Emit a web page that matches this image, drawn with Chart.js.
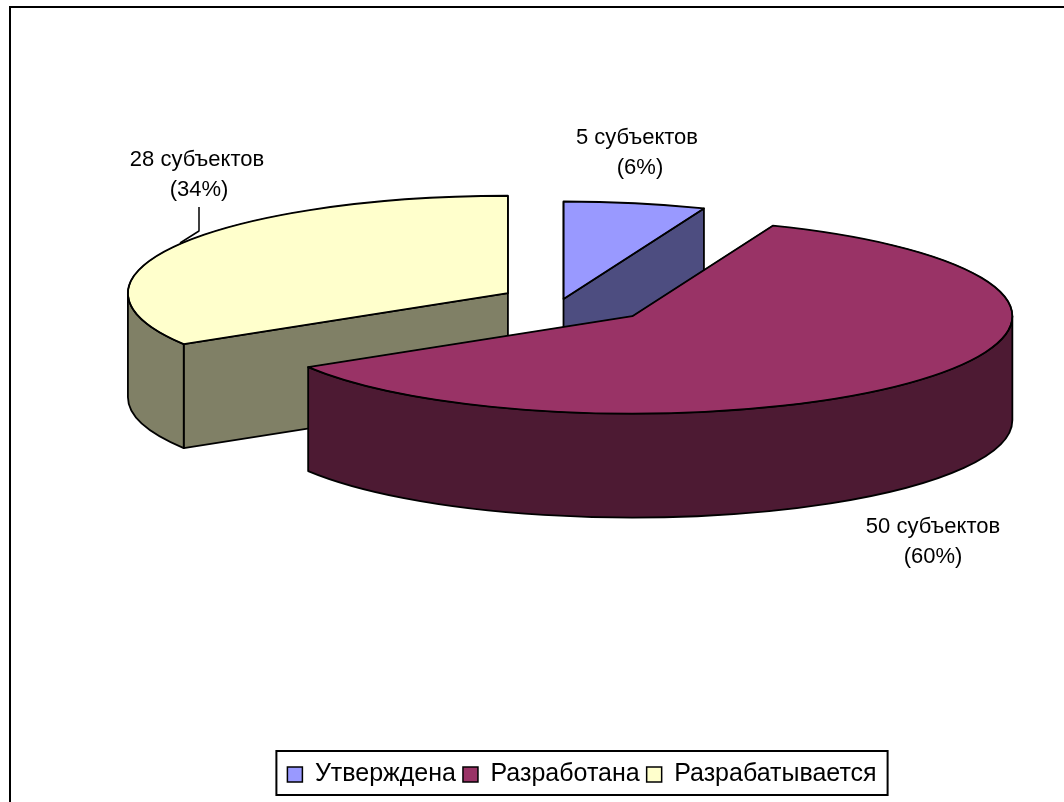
<!DOCTYPE html>
<html lang="ru">
<head>
<meta charset="utf-8">
<style>html,body{margin:0;padding:0;background:#fff;overflow:hidden}canvas{display:block}</style>
<script src="https://cdn.jsdelivr.net/npm/chart.js@4/dist/chart.umd.min.js"></script>
</head>
<body>
<canvas id="c" width="1064" height="802"></canvas>
<script>
const categories = ['Утверждена', 'Разработана', 'Разрабатывается'];
const subjects = [5, 50, 28];
const labelLine1 = ['5 субъектов', '50 субъектов', '28 субъектов'];
const labelLine2 = ['(6%)', '(60%)', '(34%)'];

const topColors = ['#9999FF', '#993366', '#FFFFCC'];
const wallColors = ['#4D4D80', '#4D1A33', '#808066'];
const explode = [8, 92, 62];
const labelAnchors = [[637, 144, 640], [933, 533, 933], [197, 166, 199]];
const drawOrder = [2, 0, 1];
const tilt = 0.2565, depth = 104, pieX = 562, pieY = 301;
const LINE = 1.8;

const pie3d = {
  id: 'pie3d',
  beforeDraw(chart) {
    const c = chart.ctx;
    c.save();
    c.fillStyle = '#fff';
    c.fillRect(0, 0, chart.width, chart.height);
    c.strokeStyle = '#000';
    c.lineWidth = 2;
    c.beginPath();
    c.moveTo(10, chart.height);
    c.lineTo(10, 7);
    c.lineTo(chart.width, 7);
    c.stroke();
    c.restore();
  },
  beforeDatasetsDraw(chart) {
    const c = chart.ctx;
    const arcs = chart.getDatasetMeta(0).data;
    c.save();
    c.lineJoin = 'round';
    c.lineWidth = LINE;
    c.strokeStyle = '#000';
    drawOrder.forEach(i => {
      const arc = arcs[i];
      const s = arc.startAngle, e = arc.endAngle, R = arc.outerRadius, ry = R * tilt;
      const mid = (s + e) / 2;
      const cx = pieX + Math.cos(mid) * explode[i];
      const cy = pieY + Math.sin(mid) * explode[i] * tilt;
      const px = a => cx + R * Math.cos(a), py = a => cy + ry * Math.sin(a);
      c.fillStyle = wallColors[i];
      // visible radial wall
      const radial = [];
      if (-Math.cos(s) > 0.01) radial.push(s);
      if (Math.cos(e) > 0.01) radial.push(e);
      radial.forEach(a => {
        c.beginPath();
        c.moveTo(cx, cy);
        c.lineTo(px(a), py(a));
        c.lineTo(px(a), py(a) + depth);
        c.lineTo(cx, cy + depth);
        c.closePath();
        c.fill();
        c.stroke();
      });
      // visible outer wall
      const a1 = Math.max(s, 0), a2 = Math.min(e, Math.PI);
      if (a2 > a1) {
        c.beginPath();
        c.ellipse(cx, cy, R, ry, 0, a1, a2);
        c.ellipse(cx, cy + depth, R, ry, 0, a2, a1, true);
        c.closePath();
        c.fill();
        c.stroke();
      }
      // top face, drawn by the library's arc element
      c.save();
      c.translate(cx, cy);
      c.scale(1, tilt);
      c.translate(-arc.x, -arc.y);
      arc.draw(c);
      c.restore();
      c.beginPath();
      c.moveTo(cx, cy);
      c.ellipse(cx, cy, R, ry, 0, s, e);
      c.closePath();
      c.stroke();
    });
    // labels
    c.fillStyle = '#000';
    c.textAlign = 'center';
    c.textBaseline = 'alphabetic';
    c.font = '22px "Liberation Sans"';
    labelAnchors.forEach((p, i) => {
      c.fillText(labelLine1[i], p[0], p[1]);
      c.fillText(labelLine2[i], p[2], p[1] + 30);
    });
    // leader line
    c.lineWidth = 1.5;
    c.beginPath();
    c.moveTo(199, 207);
    c.lineTo(199, 231);
    c.lineTo(180, 243);
    c.stroke();
    c.restore();
    return false;
  },
  afterDraw(chart) {
    const c = chart.ctx, lg = chart.legend, hb = lg.legendHitBoxes;
    const last = hb[hb.length - 1];
    c.save();
    c.strokeStyle = '#000';
    c.lineWidth = 2;
    c.strokeRect(hb[0].left - 11, lg.top - 4, last.left + last.width - hb[0].left + 22, lg.height + 2);
    c.restore();
  }
};

new Chart(document.getElementById('c'), {
  type: 'pie',
  data: {
    labels: categories,
    datasets: [{
      data: subjects,
      backgroundColor: topColors,
      borderColor: '#000',
      borderWidth: 1.5,
      radius: 380
    }]
  },
  plugins: [pie3d],
  options: {
    responsive: false,
    animation: false,
    layout: { padding: { left: 100, bottom: 5 } },
    plugins: {
      tooltip: { enabled: false },
      title: { display: false },
      legend: {
        display: true,
        position: 'bottom',
        labels: {
          color: '#000',
          boxWidth: 15,
          boxHeight: 15,
          padding: 7,
          font: { family: '"Liberation Sans"', size: 25 }
        }
      }
    }
  }
});
</script>
</body>
</html>
